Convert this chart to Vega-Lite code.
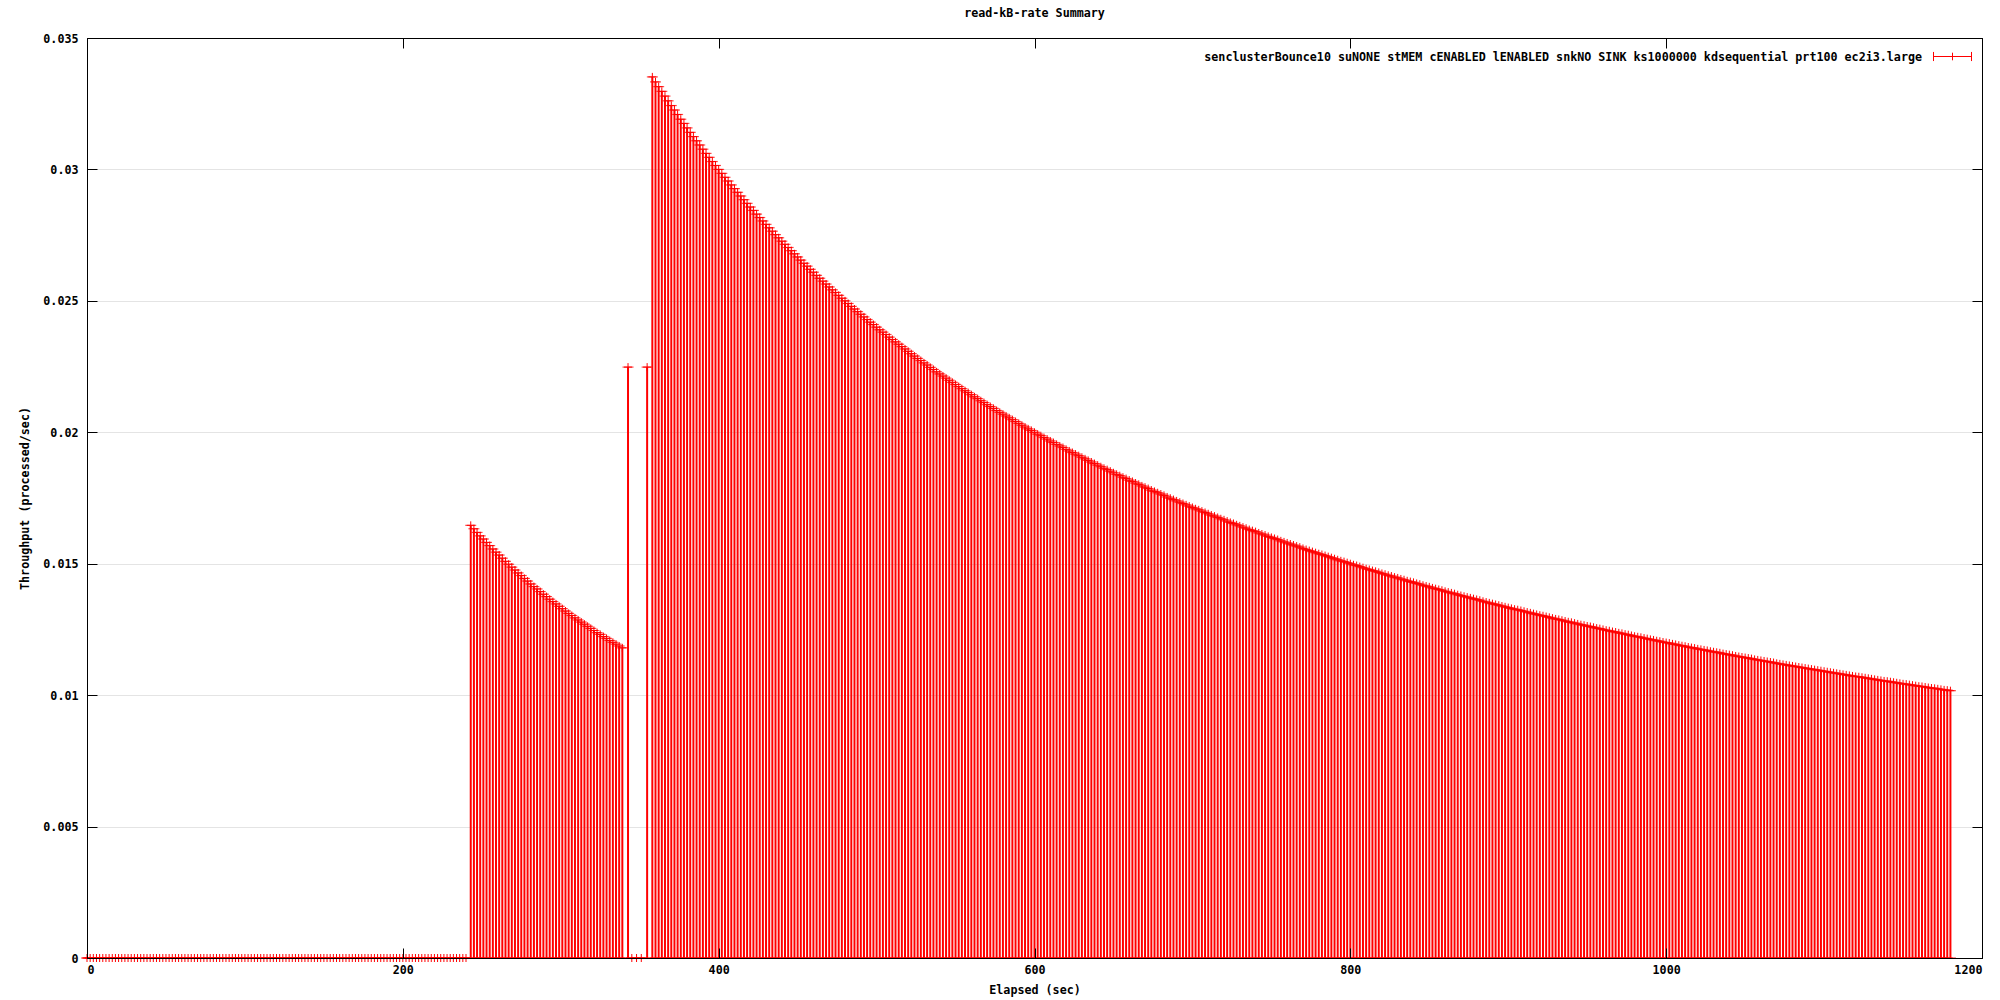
{
"$schema":"https://vega.github.io/schema/vega-lite/v6.json",
"width":1895,"height":920,
"autosize":{"type":"none"},
"padding":{"left":87,"top":38,"right":18,"bottom":42},
"background":"white",
"title":{"text":"read-kB-rate Summary","font":"DejaVu Sans Mono","fontSize":11.7,"fontWeight":"bold","color":"black","anchor":"middle","offset":13},
"config":{
 "view":{"stroke":"black","strokeWidth":1},
 "axis":{"domainColor":"black","domainWidth":1,"tickColor":"black","tickWidth":1,"labelColor":"black","labelFont":"DejaVu Sans Mono","labelFontSize":11.7,"labelFontWeight":"bold","titleFont":"DejaVu Sans Mono","titleFontSize":11.7,"titleFontWeight":"bold","titleColor":"black","gridColor":"#e4e4e4","gridWidth":1}
},
"data":{"values":[
{"t":0,"v":0},{"t":2,"v":0},{"t":4,"v":0},{"t":6,"v":0},{"t":8,"v":0},{"t":10,"v":0},{"t":12,"v":0},{"t":14,"v":0},{"t":16,"v":0},{"t":18,"v":0},{"t":20,"v":0},{"t":22,"v":0},{"t":24,"v":0},{"t":26,"v":0},{"t":28,"v":0},{"t":30,"v":0},{"t":32,"v":0},{"t":34,"v":0},{"t":36,"v":0},{"t":38,"v":0},{"t":40,"v":0},{"t":42,"v":0},{"t":44,"v":0},{"t":46,"v":0},{"t":48,"v":0},{"t":50,"v":0},{"t":52,"v":0},{"t":54,"v":0},{"t":56,"v":0},{"t":58,"v":0},{"t":60,"v":0},{"t":62,"v":0},{"t":64,"v":0},{"t":66,"v":0},{"t":68,"v":0},{"t":70,"v":0},{"t":72,"v":0},{"t":74,"v":0},{"t":76,"v":0},{"t":78,"v":0},{"t":80,"v":0},{"t":82,"v":0},{"t":84,"v":0},{"t":86,"v":0},{"t":88,"v":0},{"t":90,"v":0},{"t":92,"v":0},{"t":94,"v":0},{"t":96,"v":0},{"t":98,"v":0},{"t":100,"v":0},{"t":102,"v":0},{"t":104,"v":0},{"t":106,"v":0},{"t":108,"v":0},{"t":110,"v":0},{"t":112,"v":0},{"t":114,"v":0},{"t":116,"v":0},{"t":118,"v":0},{"t":120,"v":0},{"t":122,"v":0},{"t":124,"v":0},{"t":126,"v":0},{"t":128,"v":0},{"t":130,"v":0},{"t":132,"v":0},{"t":134,"v":0},{"t":136,"v":0},{"t":138,"v":0},{"t":140,"v":0},{"t":142,"v":0},{"t":144,"v":0},{"t":146,"v":0},{"t":148,"v":0},{"t":150,"v":0},{"t":152,"v":0},{"t":154,"v":0},{"t":156,"v":0},{"t":158,"v":0},{"t":160,"v":0},{"t":162,"v":0},{"t":164,"v":0},{"t":166,"v":0},{"t":168,"v":0},{"t":170,"v":0},{"t":172,"v":0},{"t":174,"v":0},{"t":176,"v":0},{"t":178,"v":0},{"t":180,"v":0},{"t":182,"v":0},{"t":184,"v":0},{"t":186,"v":0},{"t":188,"v":0},{"t":190,"v":0},{"t":192,"v":0},{"t":194,"v":0},{"t":196,"v":0},{"t":198,"v":0},{"t":200,"v":0},{"t":202,"v":0},{"t":204,"v":0},{"t":206,"v":0},{"t":208,"v":0},{"t":210,"v":0},{"t":212,"v":0},{"t":214,"v":0},{"t":216,"v":0},{"t":218,"v":0},{"t":220,"v":0},{"t":222,"v":0},{"t":224,"v":0},{"t":226,"v":0},{"t":228,"v":0},{"t":230,"v":0},{"t":232,"v":0},{"t":234,"v":0},{"t":236,"v":0},{"t":238,"v":0},{"t":240,"v":0},
{"t":243,"v":0.01646},{"t":245,"v":0.01633},{"t":247,"v":0.01619},{"t":249,"v":0.01606},{"t":251,"v":0.01594},{"t":253,"v":0.01581},{"t":255,"v":0.01569},{"t":257,"v":0.01556},{"t":259,"v":0.01544},{"t":261,"v":0.01533},{"t":263,"v":0.01521},{"t":265,"v":0.01509},{"t":267,"v":0.01498},{"t":269,"v":0.01487},{"t":271,"v":0.01476},{"t":273,"v":0.01465},{"t":275,"v":0.01455},{"t":277,"v":0.01444},{"t":279,"v":0.01434},{"t":281,"v":0.01423},{"t":283,"v":0.01413},{"t":285,"v":0.01404},{"t":287,"v":0.01394},{"t":289,"v":0.01384},{"t":291,"v":0.01375},{"t":293,"v":0.01365},{"t":295,"v":0.01356},{"t":297,"v":0.01347},{"t":299,"v":0.01338},{"t":301,"v":0.01329},{"t":303,"v":0.0132},{"t":305,"v":0.01311},{"t":307,"v":0.01303},{"t":309,"v":0.01294},{"t":311,"v":0.01286},{"t":313,"v":0.01278},{"t":315,"v":0.0127},{"t":317,"v":0.01262},{"t":319,"v":0.01254},{"t":321,"v":0.01246},{"t":323,"v":0.01238},{"t":325,"v":0.01231},{"t":327,"v":0.01223},{"t":329,"v":0.01216},{"t":331,"v":0.01208},{"t":333,"v":0.01201},{"t":335,"v":0.01194},{"t":337,"v":0.01187},{"t":339,"v":0.0118},
{"t":342.6,"v":0.02248},{"t":345,"v":0},{"t":348,"v":0},{"t":351,"v":0},{"t":354.7,"v":0.02248},
{"t":358,"v":0.03352},{"t":360,"v":0.03333},{"t":362,"v":0.03315},{"t":364,"v":0.03297},{"t":366,"v":0.03279},{"t":368,"v":0.03261},{"t":370,"v":0.03243},{"t":372,"v":0.03226},{"t":374,"v":0.03209},{"t":376,"v":0.03191},{"t":378,"v":0.03175},{"t":380,"v":0.03158},{"t":382,"v":0.03141},{"t":384,"v":0.03125},{"t":386,"v":0.03109},{"t":388,"v":0.03093},{"t":390,"v":0.03077},{"t":392,"v":0.03061},{"t":394,"v":0.03046},{"t":396,"v":0.0303},{"t":398,"v":0.03015},{"t":400,"v":0.03},
{"t":402,"v":0.02985},{"t":404,"v":0.0297},{"t":406,"v":0.02956},{"t":408,"v":0.02941},{"t":410,"v":0.02927},{"t":412,"v":0.02913},{"t":414,"v":0.02899},{"t":416,"v":0.02885},{"t":418,"v":0.02871},{"t":420,"v":0.02857},{"t":422,"v":0.02844},{"t":424,"v":0.0283},{"t":426,"v":0.02817},{"t":428,"v":0.02804},{"t":430,"v":0.02791},{"t":432,"v":0.02778},{"t":434,"v":0.02765},{"t":436,"v":0.02752},{"t":438,"v":0.0274},{"t":440,"v":0.02727},{"t":442,"v":0.02715},{"t":444,"v":0.02703},{"t":446,"v":0.02691},{"t":448,"v":0.02679},{"t":450,"v":0.02667},{"t":452,"v":0.02655},{"t":454,"v":0.02643},{"t":456,"v":0.02632},{"t":458,"v":0.0262},{"t":460,"v":0.02609},{"t":462,"v":0.02597},{"t":464,"v":0.02586},{"t":466,"v":0.02575},{"t":468,"v":0.02564},{"t":470,"v":0.02553},{"t":472,"v":0.02542},{"t":474,"v":0.02532},{"t":476,"v":0.02521},{"t":478,"v":0.0251},{"t":480,"v":0.025},
{"t":482,"v":0.0249},{"t":484,"v":0.02479},{"t":486,"v":0.02469},{"t":488,"v":0.02459},{"t":490,"v":0.02449},{"t":492,"v":0.02439},{"t":494,"v":0.02429},{"t":496,"v":0.02419},{"t":498,"v":0.0241},{"t":500,"v":0.024},{"t":502,"v":0.0239},{"t":504,"v":0.02381},{"t":506,"v":0.02372},{"t":508,"v":0.02362},{"t":510,"v":0.02353},{"t":512,"v":0.02344},{"t":514,"v":0.02335},{"t":516,"v":0.02326},{"t":518,"v":0.02317},{"t":520,"v":0.02308},{"t":522,"v":0.02299},{"t":524,"v":0.0229},{"t":526,"v":0.02281},{"t":528,"v":0.02273},{"t":530,"v":0.02264},{"t":532,"v":0.02256},{"t":534,"v":0.02247},{"t":536,"v":0.02239},{"t":538,"v":0.0223},{"t":540,"v":0.02222},{"t":542,"v":0.02214},{"t":544,"v":0.02206},{"t":546,"v":0.02198},{"t":548,"v":0.0219},{"t":550,"v":0.02182},{"t":552,"v":0.02174},{"t":554,"v":0.02166},{"t":556,"v":0.02158},{"t":558,"v":0.02151},{"t":560,"v":0.02143},
{"t":562,"v":0.02135},{"t":564,"v":0.02128},{"t":566,"v":0.0212},{"t":568,"v":0.02113},{"t":570,"v":0.02105},{"t":572,"v":0.02098},{"t":574,"v":0.02091},{"t":576,"v":0.02083},{"t":578,"v":0.02076},{"t":580,"v":0.02069},{"t":582,"v":0.02062},{"t":584,"v":0.02055},{"t":586,"v":0.02048},{"t":588,"v":0.02041},{"t":590,"v":0.02034},{"t":592,"v":0.02027},{"t":594,"v":0.0202},{"t":596,"v":0.02013},{"t":598,"v":0.02007},{"t":600,"v":0.02},
{"t":602,"v":0.01993},{"t":604,"v":0.01987},{"t":606,"v":0.0198},{"t":608,"v":0.01974},{"t":610,"v":0.01967},{"t":612,"v":0.01961},{"t":614,"v":0.01954},{"t":616,"v":0.01948},{"t":618,"v":0.01942},{"t":620,"v":0.01935},{"t":622,"v":0.01929},{"t":624,"v":0.01923},{"t":626,"v":0.01917},{"t":628,"v":0.01911},{"t":630,"v":0.01905},{"t":632,"v":0.01899},{"t":634,"v":0.01893},{"t":636,"v":0.01887},{"t":638,"v":0.01881},{"t":640,"v":0.01875},{"t":642,"v":0.01869},{"t":644,"v":0.01863},{"t":646,"v":0.01858},{"t":648,"v":0.01852},{"t":650,"v":0.01846},{"t":652,"v":0.0184},{"t":654,"v":0.01835},{"t":656,"v":0.01829},{"t":658,"v":0.01824},{"t":660,"v":0.01818},{"t":662,"v":0.01813},{"t":664,"v":0.01807},{"t":666,"v":0.01802},{"t":668,"v":0.01796},{"t":670,"v":0.01791},{"t":672,"v":0.01786},{"t":674,"v":0.0178},{"t":676,"v":0.01775},{"t":678,"v":0.0177},{"t":680,"v":0.01765},
{"t":682,"v":0.0176},{"t":684,"v":0.01754},{"t":686,"v":0.01749},{"t":688,"v":0.01744},{"t":690,"v":0.01739},{"t":692,"v":0.01734},{"t":694,"v":0.01729},{"t":696,"v":0.01724},{"t":698,"v":0.01719},{"t":700,"v":0.01714},{"t":702,"v":0.01709},{"t":704,"v":0.01705},{"t":706,"v":0.017},{"t":708,"v":0.01695},{"t":710,"v":0.0169},{"t":712,"v":0.01685},{"t":714,"v":0.01681},{"t":716,"v":0.01676},{"t":718,"v":0.01671},{"t":720,"v":0.01667},{"t":722,"v":0.01662},{"t":724,"v":0.01657},{"t":726,"v":0.01653},{"t":728,"v":0.01648},{"t":730,"v":0.01644},{"t":732,"v":0.01639},{"t":734,"v":0.01635},{"t":736,"v":0.0163},{"t":738,"v":0.01626},{"t":740,"v":0.01622},{"t":742,"v":0.01617},{"t":744,"v":0.01613},{"t":746,"v":0.01609},{"t":748,"v":0.01604},{"t":750,"v":0.016},
{"t":752,"v":0.01596},{"t":754,"v":0.01592},{"t":756,"v":0.01587},{"t":758,"v":0.01583},{"t":760,"v":0.01579},{"t":762,"v":0.01575},{"t":764,"v":0.01571},{"t":766,"v":0.01567},{"t":768,"v":0.01563},{"t":770,"v":0.01558},{"t":772,"v":0.01554},{"t":774,"v":0.0155},{"t":776,"v":0.01546},{"t":778,"v":0.01542},{"t":780,"v":0.01538},{"t":782,"v":0.01535},{"t":784,"v":0.01531},{"t":786,"v":0.01527},{"t":788,"v":0.01523},{"t":790,"v":0.01519},{"t":792,"v":0.01515},{"t":794,"v":0.01511},{"t":796,"v":0.01508},{"t":798,"v":0.01504},{"t":800,"v":0.015},
{"t":802,"v":0.01496},{"t":804,"v":0.01493},{"t":806,"v":0.01489},{"t":808,"v":0.01485},{"t":810,"v":0.01481},{"t":812,"v":0.01478},{"t":814,"v":0.01474},{"t":816,"v":0.01471},{"t":818,"v":0.01467},{"t":820,"v":0.01463},{"t":822,"v":0.0146},{"t":824,"v":0.01456},{"t":826,"v":0.01453},{"t":828,"v":0.01449},{"t":830,"v":0.01446},{"t":832,"v":0.01442},{"t":834,"v":0.01439},{"t":836,"v":0.01435},{"t":838,"v":0.01432},{"t":840,"v":0.01429},{"t":842,"v":0.01425},{"t":844,"v":0.01422},{"t":846,"v":0.01418},{"t":848,"v":0.01415},{"t":850,"v":0.01412},{"t":852,"v":0.01408},{"t":854,"v":0.01405},{"t":856,"v":0.01402},{"t":858,"v":0.01399},{"t":860,"v":0.01395},{"t":862,"v":0.01392},{"t":864,"v":0.01389},{"t":866,"v":0.01386},{"t":868,"v":0.01382},{"t":870,"v":0.01379},{"t":872,"v":0.01376},{"t":874,"v":0.01373},{"t":876,"v":0.0137},{"t":878,"v":0.01367},{"t":880,"v":0.01364},
{"t":882,"v":0.01361},{"t":884,"v":0.01357},{"t":886,"v":0.01354},{"t":888,"v":0.01351},{"t":890,"v":0.01348},{"t":892,"v":0.01345},{"t":894,"v":0.01342},{"t":896,"v":0.01339},{"t":898,"v":0.01336},{"t":900,"v":0.01333},{"t":902,"v":0.0133},{"t":904,"v":0.01327},{"t":906,"v":0.01325},{"t":908,"v":0.01322},{"t":910,"v":0.01319},{"t":912,"v":0.01316},{"t":914,"v":0.01313},{"t":916,"v":0.0131},{"t":918,"v":0.01307},{"t":920,"v":0.01304},{"t":922,"v":0.01302},{"t":924,"v":0.01299},{"t":926,"v":0.01296},{"t":928,"v":0.01293},{"t":930,"v":0.0129},{"t":932,"v":0.01288},{"t":934,"v":0.01285},{"t":936,"v":0.01282},{"t":938,"v":0.01279},{"t":940,"v":0.01277},{"t":942,"v":0.01274},{"t":944,"v":0.01271},{"t":946,"v":0.01268},{"t":948,"v":0.01266},{"t":950,"v":0.01263},{"t":952,"v":0.01261},{"t":954,"v":0.01258},{"t":956,"v":0.01255},{"t":958,"v":0.01253},{"t":960,"v":0.0125},
{"t":962,"v":0.01247},{"t":964,"v":0.01245},{"t":966,"v":0.01242},{"t":968,"v":0.0124},{"t":970,"v":0.01237},{"t":972,"v":0.01235},{"t":974,"v":0.01232},{"t":976,"v":0.0123},{"t":978,"v":0.01227},{"t":980,"v":0.01224},{"t":982,"v":0.01222},{"t":984,"v":0.0122},{"t":986,"v":0.01217},{"t":988,"v":0.01215},{"t":990,"v":0.01212},{"t":992,"v":0.0121},{"t":994,"v":0.01207},{"t":996,"v":0.01205},{"t":998,"v":0.01202},{"t":1000,"v":0.012},
{"t":1002,"v":0.01198},{"t":1004,"v":0.01195},{"t":1006,"v":0.01193},{"t":1008,"v":0.0119},{"t":1010,"v":0.01188},{"t":1012,"v":0.01186},{"t":1014,"v":0.01183},{"t":1016,"v":0.01181},{"t":1018,"v":0.01179},{"t":1020,"v":0.01176},{"t":1022,"v":0.01174},{"t":1024,"v":0.01172},{"t":1026,"v":0.0117},{"t":1028,"v":0.01167},{"t":1030,"v":0.01165},{"t":1032,"v":0.01163},{"t":1034,"v":0.01161},{"t":1036,"v":0.01158},{"t":1038,"v":0.01156},{"t":1040,"v":0.01154},{"t":1042,"v":0.01152},{"t":1044,"v":0.01149},{"t":1046,"v":0.01147},{"t":1048,"v":0.01145},{"t":1050,"v":0.01143},{"t":1052,"v":0.01141},{"t":1054,"v":0.01139},{"t":1056,"v":0.01136},{"t":1058,"v":0.01134},{"t":1060,"v":0.01132},{"t":1062,"v":0.0113},{"t":1064,"v":0.01128},{"t":1066,"v":0.01126},{"t":1068,"v":0.01124},{"t":1070,"v":0.01121},{"t":1072,"v":0.01119},{"t":1074,"v":0.01117},{"t":1076,"v":0.01115},{"t":1078,"v":0.01113},{"t":1080,"v":0.01111},
{"t":1082,"v":0.01109},{"t":1084,"v":0.01107},{"t":1086,"v":0.01105},{"t":1088,"v":0.01103},{"t":1090,"v":0.01101},{"t":1092,"v":0.01099},{"t":1094,"v":0.01097},{"t":1096,"v":0.01095},{"t":1098,"v":0.01093},{"t":1100,"v":0.01091},{"t":1102,"v":0.01089},{"t":1104,"v":0.01087},{"t":1106,"v":0.01085},{"t":1108,"v":0.01083},{"t":1110,"v":0.01081},{"t":1112,"v":0.01079},{"t":1114,"v":0.01077},{"t":1116,"v":0.01075},{"t":1118,"v":0.01073},{"t":1120,"v":0.01071},{"t":1122,"v":0.0107},{"t":1124,"v":0.01068},{"t":1126,"v":0.01066},{"t":1128,"v":0.01064},{"t":1130,"v":0.01062},{"t":1132,"v":0.0106},{"t":1134,"v":0.01058},{"t":1136,"v":0.01056},{"t":1138,"v":0.01054},{"t":1140,"v":0.01053},{"t":1142,"v":0.01051},{"t":1144,"v":0.01049},{"t":1146,"v":0.01047},{"t":1148,"v":0.01045},{"t":1150,"v":0.01043},{"t":1152,"v":0.01042},{"t":1154,"v":0.0104},{"t":1156,"v":0.01038},{"t":1158,"v":0.01036},{"t":1160,"v":0.01034},{"t":1162,"v":0.01033},{"t":1164,"v":0.01031},{"t":1166,"v":0.01029},{"t":1168,"v":0.01027},{"t":1170,"v":0.01026},{"t":1172,"v":0.01024},{"t":1174,"v":0.01022},{"t":1176,"v":0.0102},{"t":1178,"v":0.01019},{"t":1180,"v":0.01017}
]},
"layer":[
 {"mark":{"type":"rule","strokeWidth":2},
  "encoding":{
   "x":{"field":"t","type":"quantitative","scale":{"domain":[0,1200],"nice":false,"zero":false},
        "axis":{"orient":"bottom","title":"Elapsed (sec)","values":[0,200,400,600,800,1000,1200],"format":"d","tickSize":-10,"labelPadding":16,"titlePadding":9,"grid":false,"zindex":1}},
   "y":{"field":"v","type":"quantitative","scale":{"domain":[0,0.035],"nice":false},
        "axis":{"orient":"left","title":"Throughput (processed/sec)","values":[0,0.005,0.01,0.015,0.02,0.025,0.03,0.035],"format":"~g","tickSize":-10,"labelPadding":19,"titlePadding":12,"grid":false,"zindex":1}},
   "y2":{"datum":0},
   "color":{"datum":"senclusterBounce10 suNONE stMEM cENABLED lENABLED snkNO SINK ks1000000 kdsequential prt100 ec2i3.large","type":"nominal","scale":{"range":["#ff0000"]},
     "legend":{"orient":"none","legendX":1846,"legendY":-1,"title":null,"padding":0,"symbolType":"M-1,0L1,0M-1,-0.24L-1,0.24M1,-0.24L1,0.24M0,-0.2L0,0.2","symbolSize":1444,"symbolStrokeWidth":1,"symbolStrokeColor":"#ff0000","symbolFillColor":"transparent","labelAlign":"right","labelOffset":-50,"labelFont":"DejaVu Sans Mono","labelFontSize":11.7,"labelFontWeight":"bold","labelColor":"black","labelLimit":1000}}
  }},
 {"mark":{"type":"tick","orient":"horizontal","size":11,"thickness":1.2,"color":"#ff0000"},
  "encoding":{
   "x":{"field":"t","type":"quantitative","axis":{"orient":"top","labels":false,"title":null,"tickSize":-10,"values":[0,200,400,600,800,1000,1200],"grid":false,"zindex":1}},
   "y":{"field":"v","type":"quantitative","axis":{"orient":"right","labels":false,"title":null,"tickSize":-10,"values":[0,0.005,0.01,0.015,0.02,0.025,0.03,0.035],"grid":true,"zindex":0}}
  }},
 {"mark":{"type":"tick","orient":"horizontal","size":11,"thickness":1.2,"color":"#ff0000"},
  "encoding":{
   "x":{"field":"t","type":"quantitative","axis":null},
   "y":{"datum":0,"type":"quantitative","axis":null}
  }},
 {"mark":{"type":"point","shape":"M-1,0L1,0M0,-1L0,1","size":64,"filled":false,"color":"#ff0000","strokeWidth":1,"opacity":1},
  "encoding":{
   "x":{"field":"t","type":"quantitative","axis":null},
   "y":{"field":"v","type":"quantitative","axis":null}
  }}
],
"resolve":{"axis":{"x":"independent","y":"independent"}}
}
